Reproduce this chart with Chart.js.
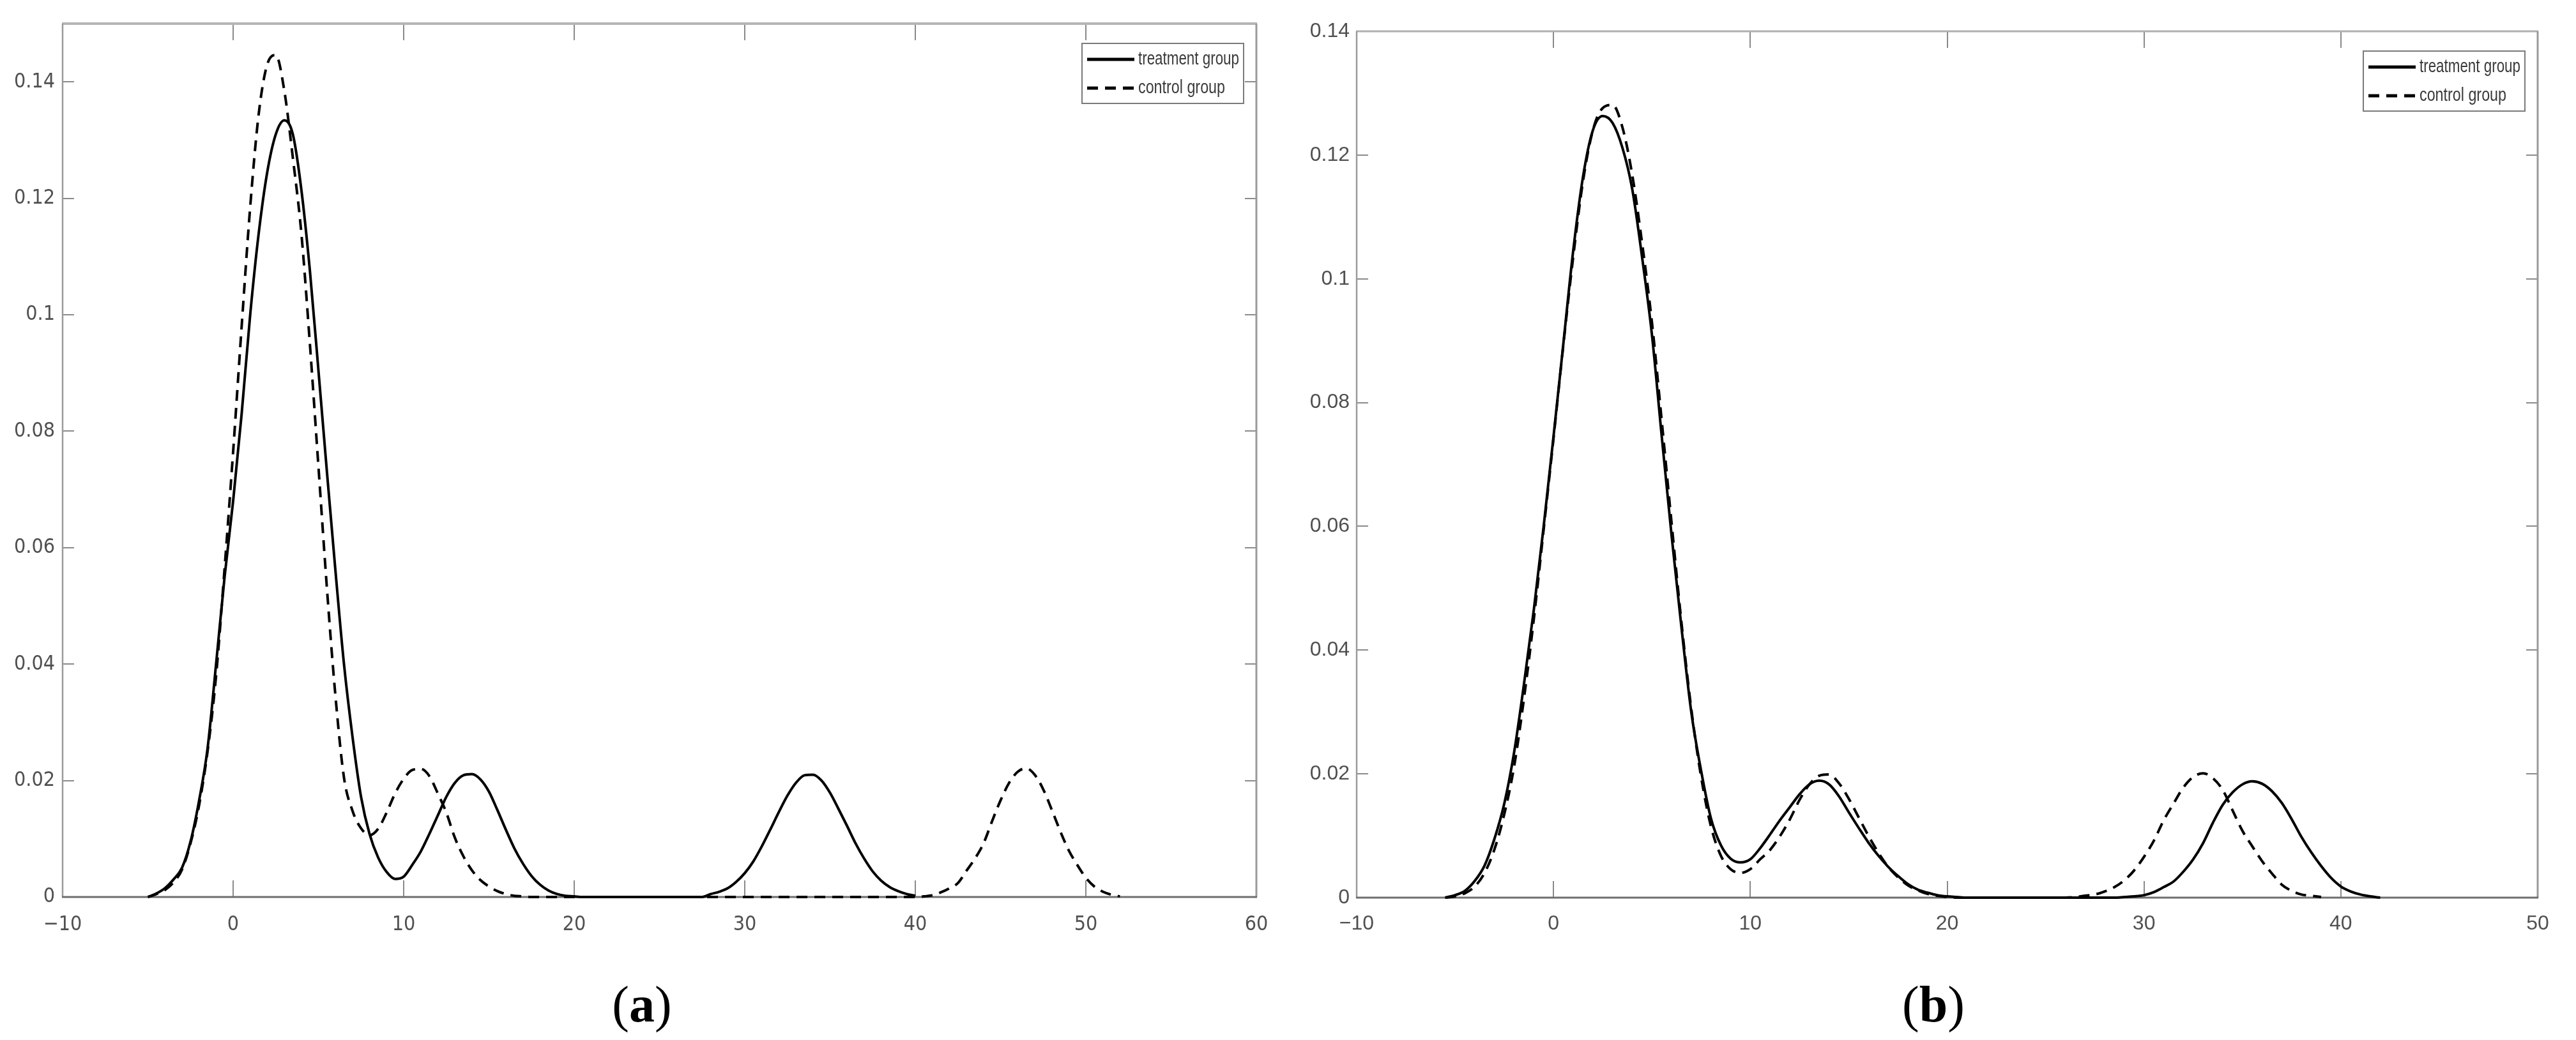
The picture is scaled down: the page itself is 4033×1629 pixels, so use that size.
<!DOCTYPE html>
<html><head><meta charset="utf-8">
<script src="https://cdn.jsdelivr.net/npm/chart.js@4.4.1/dist/chart.umd.min.js"></script>
<style>
html,body{margin:0;padding:0;background:#fff;width:4033px;height:1629px;overflow:hidden;position:relative}
canvas{position:absolute;top:0}
#ca{left:0}
#cb{left:2040px}
.cap{position:absolute;font-family:"Liberation Serif","Times New Roman",serif;font-size:80px;line-height:80px;color:#000;transform:translateX(-50%);white-space:nowrap}
</style></head><body>
<canvas id="ca" width="2040" height="1629"></canvas>
<canvas id="cb" width="1993" height="1629"></canvas>
<div class="cap" style="left:1005px;top:1533px">(<b>a</b>)</div>
<div class="cap" style="left:3027px;top:1533px">(<b>b</b>)</div>
<script>
// ---------- Panel (a) ----------
const xA = [-5,-4.5,-4,-3.5,-3,-2.5,-2,-1.5,-1,-0.5,0,0.5,1,1.5,2,2.5,3,3.5,4,4.5,5,5.5,6,6.5,7,7.5,8,8.5,9,9.5,10,10.5,11,11.5,12,12.5,13,13.5,14,14.5,15,15.5,16,16.5,17,17.5,18,18.5,19,19.5,20,20.5,21,21.5,22,22.5,23,23.5,24,24.5,25,25.5,26,26.5,27,27.5,28,28.5,29,29.5,30,30.5,31,31.5,32,32.5,33,33.5,34,34.5,35,35.5,36,36.5,37,37.5,38,38.5,39,39.5,40,40.5,41,41.5,42,42.5,43,43.5,44,44.5,45,45.5,46,46.5,47,47.5,48,48.5,49,49.5,50,50.5,51,51.5,52];
const treatA = [
0,0.0006,0.0015,0.003,0.005,0.0095,0.0165,0.0255,0.040,0.055,
0.068,0.083,0.100,0.114,0.1245,0.131,0.1334,0.131,0.1215,0.1076,
0.0905,0.073,0.056,0.040,0.0275,0.0172,0.0108,0.0068,0.0043,0.0031,
0.0035,0.0055,0.0078,0.0108,0.0140,0.0172,0.0196,0.0209,0.0211,0.0202,
0.0181,0.0149,0.0115,0.0083,0.0057,0.0036,0.0021,0.0011,0.0005,0.0002,
0.0001,
0,0,0,0,0,0,0,0,0,0,0,0,0,0,0,
0.0005,0.0009,0.0015,0.0026,0.0041,0.0061,0.0087,0.0116,0.0146,0.0174,0.0196,0.0209,0.0210,0.0200,0.0179,0.0151,0.0122,0.0092,0.0066,0.0044,0.0028,0.0017,0.0010,0.0005,0.0002,
null,null,null,null,null,null,null,null,null,null,null,null,null,null,null,null,null,null,null,null,null,null,null,null];
const controlA = [
0,0.0005,0.0012,0.0025,0.0047,0.0092,0.0157,0.025,0.038,0.0565,
0.0765,0.098,0.1185,0.1345,0.1430,0.1446,0.1385,0.127,0.114,0.095,
0.074,0.053,0.0345,0.0205,0.0148,0.0118,0.0106,0.0117,0.0145,0.0178,
0.0203,0.0218,0.0220,0.0208,0.0178,0.0145,0.0102,0.0070,0.0046,0.0029,
0.0018,0.0010,0.0005,0.0002,0.0001,
0,0,0,0,0,0,0,0,0,0,0,0,0,0,0,0,0,0,0,0,0,0,0,0,0,0,0,0,0,0,0,0,0,0,0,0,0,0,0,0,0,0,0,0,0,0,
0.0001,0.0003,0.0008,0.0015,0.0024,0.0045,0.0066,0.0092,0.0130,0.0166,0.0196,0.0215,0.0221,0.0210,0.0185,0.0150,0.0113,0.0080,0.0055,0.0033,0.0018,0.0009,0.0004,0.0001];
const xTicksA = [-10,0,10,20,30,40,50,60];
const yTicksA = [0,0.02,0.04,0.06,0.08,0.1,0.12,0.14];
const yTickLabelsA = ['0','0.02','0.04','0.06','0.08','0.1','0.12','0.14'];

// ---------- Panel (b) ----------
const xB = [-5.5,-5,-4.5,-4,-3.5,-3,-2.5,-2,-1.5,-1,-0.5,0,0.5,1,1.5,2,2.5,3,3.5,4,4.5,5,5.5,6,6.5,7,7.5,8,8.5,9,9.5,10,10.5,11,11.5,12,12.5,13,13.5,14,14.5,15,15.5,16,16.5,17,17.5,18,18.5,19,19.5,20,20.5,21,21.5,22,22.5,23,23.5,24,24.5,25,25.5,26,26.5,27,27.5,28,28.5,29,29.5,30,30.5,31,31.5,32,32.5,33,33.5,34,34.5,35,35.5,36,36.5,37,37.5,38,38.5,39,39.5,40,40.5,41,41.5,42];
const treatB = [
0,0.0004,0.0011,0.0027,0.0052,0.0095,0.0152,0.0235,0.0345,0.0465,
0.060,0.0745,0.0895,0.1045,0.1165,0.1240,0.1263,0.1252,0.1212,0.1145,
0.1035,0.0910,0.0745,0.0585,0.0437,0.0300,0.0205,0.0128,0.0085,0.0063,
0.0057,0.0062,0.0080,0.0102,0.0125,0.0146,0.0167,0.0183,0.0189,0.0183,
0.0164,0.0138,0.0113,0.0089,0.0068,0.0050,0.0035,0.0022,0.0013,0.0008,
0.0004,0.0002,0.0001,
0,0,0,0,0,0,0,0,0,0,0,0,0,0,0,0,
0.0001,0.0002,0.0004,0.0009,0.0017,0.0026,0.0042,0.0062,0.0088,0.0121,0.0150,0.0170,0.0183,0.0188,0.0184,0.0172,0.0153,0.0127,0.0098,0.0073,0.0051,0.0032,0.0018,0.0010,0.0005,0.0002,0];
const controlB = [
0,0.0002,0.0007,0.0018,0.0040,0.0078,0.0135,0.0212,0.0322,0.0450,
0.0595,0.0742,0.0893,0.1035,0.1158,0.1240,0.1276,0.1281,0.1245,0.1168,
0.1058,0.0930,0.0770,0.0605,0.0445,0.0305,0.0195,0.0115,0.0068,0.0046,
0.0040,0.0046,0.0062,0.0077,0.0099,0.0126,0.0158,0.0183,0.0197,0.0199,
0.0185,0.0160,0.0130,0.0100,0.0073,0.0050,0.0033,0.0020,0.0012,0.0006,
0.0003,0.0001,
0,0,0,0,0,0,0,0,0,0,0,0,
0.0001,0.0003,0.0005,0.0010,0.0017,0.0028,0.0044,0.0066,0.0092,0.0125,0.0152,0.0178,0.0195,0.0201,0.0193,0.0174,0.0141,0.0108,0.0083,0.0059,0.0039,0.0021,0.0011,0.0005,0.0003,0.0001,
null,null,null,null,null,null];
const xTicksB = [-10,0,10,20,30,40,50];
const yTicksB = [0,0.02,0.04,0.06,0.08,0.1,0.12,0.14];
const yTickLabelsB = ['0','0.02','0.04','0.06','0.08','0.1','0.12','0.14'];

const seriesNames = ['treatment group','control group'];

function pts(xs, ys){ return xs.map((x,i)=>({x:x,y:ys[i]})).filter(p=>p.y!==null); }

const framePlugin = {
  id:'frame',
  beforeDatasetsDraw(chart, args, o){
    const ctx = chart.ctx, a = chart.chartArea, x = chart.scales.x, y = chart.scales.y;
    ctx.save();
    ctx.lineCap = 'butt';
    ctx.strokeStyle = o.tickColor; ctx.lineWidth = 2;
    ctx.beginPath();
    o.xTicks.forEach(v=>{ const px = Math.round(x.getPixelForValue(v));
      ctx.moveTo(px, a.bottom); ctx.lineTo(px, a.bottom - o.xTickLen);
      ctx.moveTo(px, a.top); ctx.lineTo(px, a.top + o.xTickLen); });
    o.yTicks.forEach(v=>{ const py = Math.round(y.getPixelForValue(v));
      ctx.moveTo(a.left, py); ctx.lineTo(a.left + o.yTickLen, py);
      ctx.moveTo(a.right, py); ctx.lineTo(a.right - o.yTickLen, py); });
    ctx.stroke();
    const seg=(x1,y1,x2,y2,c,w)=>{ctx.strokeStyle=c;ctx.lineWidth=w;ctx.beginPath();ctx.moveTo(x1,y1);ctx.lineTo(x2,y2);ctx.stroke();};
    seg(a.left-1, a.top, a.right+1, a.top, o.topColor, o.topWidth);
    seg(a.right, a.top, a.right, a.bottom, o.sideColor, 3);
    seg(a.left, a.top, a.left, a.bottom, o.sideColor, 2.5);
    seg(a.left-1, a.bottom, a.right+1, a.bottom, o.bottomColor, 3);
    ctx.restore();
  }
};

const legendPlugin = {
  id:'boxLegend',
  afterDatasetsDraw(chart, args, o){
    const ctx = chart.ctx, a = chart.chartArea;
    const bx = a.right - o.right - o.width, by = a.top + o.top;
    ctx.save();
    ctx.fillStyle = '#fff'; ctx.fillRect(bx, by, o.width, o.height);
    ctx.strokeStyle = '#7a7a7a'; ctx.lineWidth = 2; ctx.strokeRect(bx, by, o.width, o.height);
    chart.data.datasets.forEach((ds,i)=>{
      const yy = by + o.rows[i];
      ctx.strokeStyle = ds.borderColor; ctx.lineWidth = 5;
      ctx.setLineDash(ds.borderDash || []);
      ctx.beginPath(); ctx.moveTo(bx+8, yy); ctx.lineTo(bx+82, yy); ctx.stroke();
      ctx.setLineDash([]);
      ctx.font = o.font; ctx.fillStyle = '#3a3a3a'; ctx.textBaseline = 'middle';
      const w = ctx.measureText(ds.label).width;
      const target = o.textWidths[i];
      ctx.save(); ctx.translate(bx+88, yy); ctx.scale(target/w, 1); ctx.fillText(ds.label, 0, 0); ctx.restore();
    });
    ctx.restore();
  }
};

function makeChart(id, xs, t, c, xmin, xmax, ymax, xTicks, yTicks, yLabels, geom){
  return new Chart(document.getElementById(id), {
    type:'line',
    data:{ datasets:[
      { label:seriesNames[0], data:pts(xs,t), borderColor:'#000', borderWidth:4, pointRadius:0, fill:false, cubicInterpolationMode:'monotone', clip:8 },
      { label:seriesNames[1], data:pts(xs,c), borderColor:'#000', borderWidth:4, borderDash:[17,11], pointRadius:0, fill:false, cubicInterpolationMode:'monotone', clip:8 }
    ]},
    options:{
      responsive:false, animation:false, devicePixelRatio:1,
      layout:{ padding:{ top:geom.top, right:geom.right, left:0, bottom:0 } },
      plugins:{
        legend:{display:false}, tooltip:{enabled:false},
        frame:{ xTicks:xTicks, yTicks:yTicks, xTickLen:26, yTickLen:18, tickColor:'#8a8a8a', topColor:geom.topColor, topWidth:geom.topWidth, sideColor:'#9a9a9a', bottomColor:'#6e6e6e' },
        boxLegend:{ right:20, top:31, width:253, height:94, rows:[25,70], font:geom.legendFont, textWidths:[158,136] }
      },
      scales:{
        x:{ type:'linear', min:xmin, max:xmax,
          grid:{display:false, drawTicks:false}, border:{display:false},
          afterBuildTicks:s=>{ s.ticks = xTicks.map(v=>({value:v})); },
          afterFit:s=>{ s.height = geom.xh; },
          ticks:{ padding:geom.xpad, color:'#505050', font:{family:geom.tickFamily, size:geom.tickSize}, callback:v=>String(v).replace('-', '\u2212') } },
        y:{ type:'linear', min:0, max:ymax,
          grid:{display:false, drawTicks:false}, border:{display:false},
          afterBuildTicks:s=>{ s.ticks = yTicks.map(v=>({value:v})); },
          afterFit:s=>{ s.width = geom.yw; },
          ticks:{ padding:geom.ypad, color:'#505050', font:{family:geom.tickFamily, size:geom.tickSize}, callback:(v,i)=>yLabels[i] } }
      }
    },
    plugins:[framePlugin, legendPlugin]
  });
}

makeChart('ca', xA, treatA, controlA, -10, 60, 0.15, xTicksA, yTicksA, yTickLabelsA,
  { top:37, right:73, xh:224, yw:98, xpad:24, ypad:12, tickFamily:'"Liberation Sans Narrow","DejaVu Sans Condensed","Arial Narrow",sans-serif', tickSize:32, topColor:'#b5b5b5', topWidth:4, legendFont:'30px "Liberation Sans Narrow","Liberation Sans",sans-serif' });
makeChart('cb', xB, treatB, controlB, -10, 50, 0.14, xTicksB, yTicksB, yTickLabelsB,
  { top:49, right:60, xh:223, yw:84, xpad:22, ypad:11, tickFamily:'"Liberation Sans",Arial,sans-serif', tickSize:32, topColor:'#b0b0b0', topWidth:3, legendFont:'30px "Liberation Sans Narrow","Liberation Sans",sans-serif' });
</script>
</body></html>
